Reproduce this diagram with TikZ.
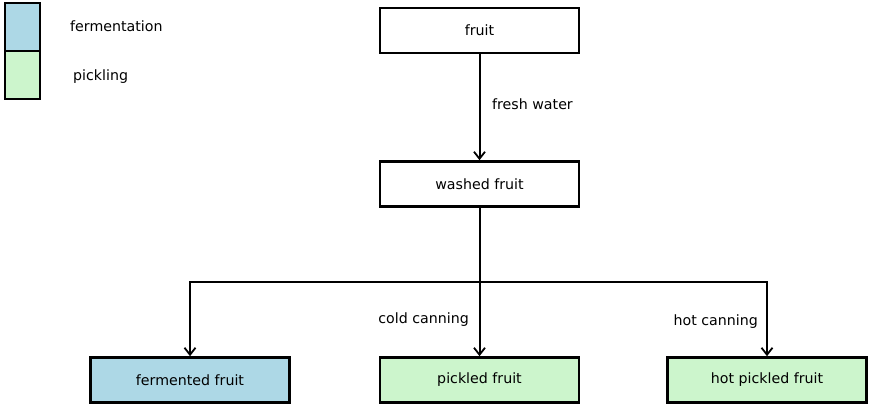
\documentclass[tikz,border=0pt]{standalone}
\usepackage{fontspec}
\setmainfont{DejaVu Sans}
\usetikzlibrary{arrows.meta}
\definecolor{fermblue}{HTML}{ADD8E6}
\definecolor{pickgreen}{HTML}{CCF5CC}
\begin{document}
\begin{tikzpicture}[x=1pt,y=-1pt,
  boxstyle/.style={draw=black,line width=2.6pt,minimum width=199pt,minimum height=45pt,inner sep=0pt,font=\fontsize{14.2}{16}\selectfont},
  conn/.style={draw=black,line width=2pt,-{Straight Barb[length=7pt,width=11pt,line width=1.8pt]}},
  lbl/.style={font=\fontsize{14.2}{16}\selectfont,inner sep=0pt}]
\useasboundingbox (0,0) rectangle (869,406);
% legend
\node[draw=black,line width=2.6pt,fill=fermblue,minimum width=35pt,minimum height=48pt,inner sep=0pt] (lf) at (22.5,27) {};
\node[draw=black,line width=2.6pt,fill=pickgreen,minimum width=35pt,minimum height=48pt,inner sep=0pt] (lp) at (22.5,75) {};
\node[lbl,anchor=west] (tf) at (70,26) {fermentation};
\node[lbl,anchor=west] (tp) at (73,77) {pickling};
% boxes
\node[boxstyle] (fruit) at (479.5,30.5) {fruit};
\node[boxstyle] (washed) at (479.5,184) {washed fruit};
\node[boxstyle,fill=fermblue] (ferm) at (190,380) {fermented fruit};
\node[boxstyle,fill=pickgreen] (pick) at (479.5,380) {pickled fruit};
\node[boxstyle,fill=pickgreen] (hot) at (767,380) {hot pickled fruit};
\coordinate (j) at (479.5,282);
% connectors
\draw[conn] (fruit.south) -- (washed.north);
\node[lbl,anchor=west] (fw) at (492,104) {fresh water};
\draw[line width=2pt] (washed.south) -- (j);
\draw[conn] (j) -- (j -| ferm.north) -- (ferm.north);
\draw[conn] (j) -- (j -| hot.north) -- (hot.north);
\draw[conn] (j) -- (pick.north);
\node[lbl,anchor=east] (cc) at (469,320) {cold canning};
\node[lbl,anchor=east] (hc) at (758,322) {hot canning};
\end{tikzpicture}
\end{document}
